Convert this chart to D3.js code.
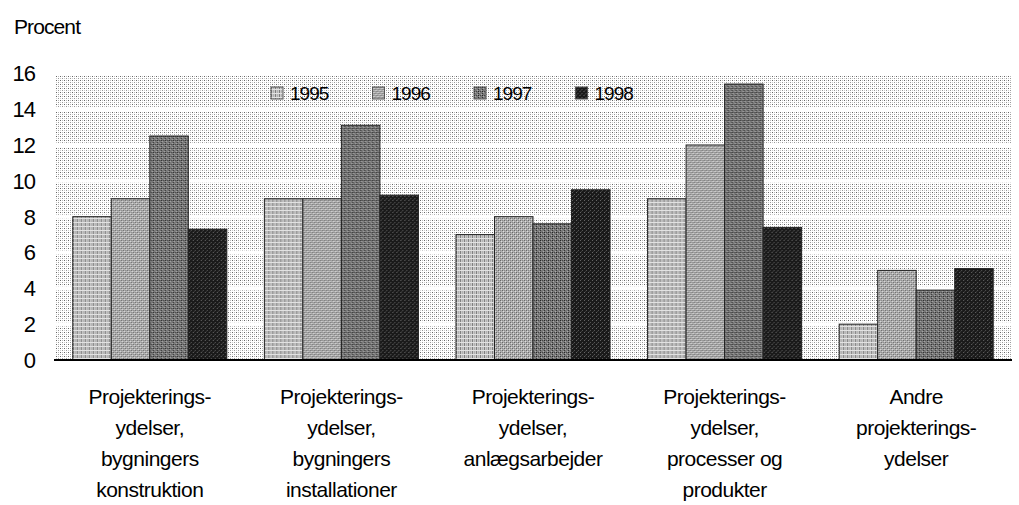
<!DOCTYPE html>
<html>
<head>
<meta charset="utf-8">
<script src="https://cdn.jsdelivr.net/npm/d3@7"></script>
<style>
  body { margin: 0; background: #fff; }
  text { font-family: "Liberation Sans", Arial, sans-serif; fill: #000; }
</style>
</head>
<body>
<svg width="1019" height="505"></svg>
<script>
const categories = [
  ['Projekterings-', 'ydelser,', 'bygningers', 'konstruktion'],
  ['Projekterings-', 'ydelser,', 'bygningers', 'installationer'],
  ['Projekterings-', 'ydelser,', 'anlægsarbejder'],
  ['Projekterings-', 'ydelser,', 'processer og', 'produkter'],
  ['Andre', 'projekterings-', 'ydelser']
];
const years = ['1995', '1996', '1997', '1998'];
const v1995 = [8.0, 9.0, 7.0, 9.0, 2.0];
const v1996 = [9.0, 9.0, 8.0, 12.0, 5.0];
const v1997 = [12.5, 13.1, 7.6, 15.4, 3.9];
const v1998 = [7.3, 9.2, 9.5, 7.4, 5.1];
const yTicks = [0, 2, 4, 6, 8, 10, 12, 14, 16];

const series = [v1995, v1996, v1997, v1998];

const svg = d3.select('svg');
const defs = svg.append('defs');

// background dot pattern
const bg = defs.append('pattern').attr('id', 'bg')
  .attr('patternUnits', 'userSpaceOnUse').attr('width', 4).attr('height', 4);
bg.append('rect').attr('width', 4).attr('height', 4).attr('fill', '#fff');
bg.append('rect').attr('x', 0).attr('y', 0).attr('width', 1).attr('height', 1).attr('fill', '#666');
bg.append('rect').attr('x', 2).attr('y', 2).attr('width', 1).attr('height', 1).attr('fill', '#999');
bg.append('rect').attr('x', 2).attr('y', 0).attr('width', 1).attr('height', 1).attr('fill', '#bbb');
bg.append('rect').attr('x', 0).attr('y', 2).attr('width', 1).attr('height', 1).attr('fill', '#ccc');

// bar patterns
function pat(id, base, cells) {
  const p = defs.append('pattern').attr('id', id)
    .attr('patternUnits', 'userSpaceOnUse').attr('width', 4).attr('height', 4);
  p.append('rect').attr('width', 4).attr('height', 4).attr('fill', base);
  cells.forEach(c => p.append('rect').attr('x', c[0]).attr('y', c[1])
    .attr('width', c[2]).attr('height', c[3]).attr('fill', c[4]));
}
pat('p0', '#cacaca', [[0, 0, 1, 4, '#7e7e7e'], [2, 0, 1, 4, '#b0b0b0'], [0, 2, 4, 1, '#e2e2e2']]);
pat('p1', '#b0b0b0', [[0, 0, 1, 1, '#666'], [2, 2, 1, 1, '#666'], [1, 1, 1, 1, '#ddd'], [3, 3, 1, 1, '#ddd'], [2, 0, 1, 1, '#888'], [0, 2, 1, 1, '#888']]);
pat('p2', '#7a7a7a', [[0, 0, 1, 1, '#222'], [2, 0, 1, 1, '#444'], [1, 1, 1, 1, '#aaa'], [3, 3, 1, 1, '#aaa'], [0, 2, 1, 1, '#333']]);
pat('p3', '#1a1a1a', [[0, 0, 1, 1, '#666'], [2, 2, 1, 1, '#555'], [1, 3, 1, 1, '#3a3a3a']]);

const x0 = d3.scaleBand().domain(d3.range(categories.length))
  .range([54, 1012]).paddingInner(0.196).paddingOuter(0.098);
const x1 = d3.scaleBand().domain(years).range([0, x0.bandwidth()]);
const y = d3.scaleLinear().domain([0, 16]).range([360, 73.3]);

// plot background
svg.append('rect')
  .attr('x', 56).attr('y', y(16) + 2)
  .attr('width', 1012 - 56).attr('height', y(0) - y(16) - 2)
  .attr('fill', 'url(#bg)');

svg.append('g').selectAll('line')
  .data(yTicks.slice(1, -1))
  .enter().append('line')
  .attr('x1', 56).attr('x2', 1012)
  .attr('y1', d => y(d)).attr('y2', d => y(d))
  .attr('stroke', '#fff').attr('stroke-width', 4);

// bars
const groups = svg.append('g').selectAll('g')
  .data(categories.map((c, i) => i))
  .enter().append('g')
  .attr('transform', i => 'translate(' + x0(i) + ',0)');

groups.selectAll('rect')
  .data(i => years.map((yr, k) => ({ yr: yr, k: k, v: series[k][i] })))
  .enter().append('rect')
  .attr('x', d => x1(d.yr))
  .attr('y', d => y(d.v))
  .attr('width', x1.bandwidth())
  .attr('height', d => y(0) - y(d.v))
  .attr('fill', d => 'url(#p' + d.k + ')')
  .attr('stroke', '#222').attr('stroke-width', 1);

// baseline
svg.append('line')
  .attr('x1', 54).attr('x2', 1012)
  .attr('y1', y(0)).attr('y2', y(0))
  .attr('stroke', '#000').attr('stroke-width', 2);

// y labels
svg.append('g').selectAll('text')
  .data(yTicks)
  .enter().append('text')
  .attr('x', 35).attr('y', d => y(d))
  .attr('dy', '0.36em')
  .attr('text-anchor', 'end')
  .style('font-size', '22px')
  .style('letter-spacing', '-1px')
  .text(d => d);

svg.append('text')
  .attr('x', 14).attr('y', 34)
  .style('font-size', '21px')
  .style('letter-spacing', '-0.9px')
  .text('Procent');

// category labels
const cat = svg.append('g').selectAll('text')
  .data(categories)
  .enter().append('text')
  .attr('text-anchor', 'middle')
  .style('font-size', '21px')
  .style('letter-spacing', '-0.5px');
cat.each(function (lines, i) {
  d3.select(this).selectAll('tspan')
    .data(lines)
    .enter().append('tspan')
    .attr('x', x0(i) + x0.bandwidth() / 2)
    .attr('y', (d, j) => 404 + j * 31)
    .text(d => d);
});

// legend
const legend = svg.append('g').selectAll('g')
  .data(years)
  .enter().append('g')
  .attr('transform', (d, k) => 'translate(' + (271 + k * 101.5) + ',87)');
legend.append('rect')
  .attr('width', 12).attr('height', 12)
  .attr('fill', (d, k) => 'url(#p' + k + ')')
  .attr('stroke', '#555').attr('stroke-width', 1);
legend.append('text')
  .attr('x', 19).attr('y', 6).attr('dy', '0.36em')
  .style('font-size', '19px')
  .style('letter-spacing', '-1px')
  .text(d => d);
</script>
</body>
</html>
